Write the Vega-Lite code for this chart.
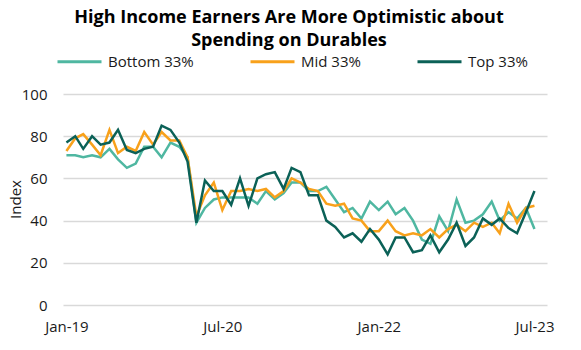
{
  "$schema": "https://vega.github.io/schema/vega-lite/v6.json",
  "width": 484,
  "height": 211,
  "autosize": {"type": "none"},
  "padding": {"left": 63, "top": 94, "right": 34, "bottom": 45},
  "background": "white",
  "title": {
    "text": ["High Income Earners Are More Optimistic about", "Spending on Durables"],
    "font": "Open Sans",
    "fontSize": 18,
    "fontWeight": "bold",
    "color": "#000000",
    "anchor": "middle",
    "frame": "group",
    "dx": -16,
    "offset": -12,
    "lineHeight": 23
  },
  "data": {
    "values": [
      {"month": "2019-01-01", "Bottom 33%": 71, "Mid 33%": 73, "Top 33%": 77},
      {"month": "2019-02-01", "Bottom 33%": 71, "Mid 33%": 79, "Top 33%": 80},
      {"month": "2019-03-01", "Bottom 33%": 70, "Mid 33%": 81, "Top 33%": 74},
      {"month": "2019-04-01", "Bottom 33%": 71, "Mid 33%": 76, "Top 33%": 80},
      {"month": "2019-05-01", "Bottom 33%": 70, "Mid 33%": 71, "Top 33%": 76},
      {"month": "2019-06-01", "Bottom 33%": 74, "Mid 33%": 83, "Top 33%": 77},
      {"month": "2019-07-01", "Bottom 33%": 69, "Mid 33%": 72, "Top 33%": 83},
      {"month": "2019-08-01", "Bottom 33%": 65, "Mid 33%": 75, "Top 33%": 73.5},
      {"month": "2019-09-01", "Bottom 33%": 67, "Mid 33%": 73, "Top 33%": 72},
      {"month": "2019-10-01", "Bottom 33%": 75, "Mid 33%": 82, "Top 33%": 74},
      {"month": "2019-11-01", "Bottom 33%": 75, "Mid 33%": 76, "Top 33%": 75},
      {"month": "2019-12-01", "Bottom 33%": 70, "Mid 33%": 82, "Top 33%": 85},
      {"month": "2020-01-01", "Bottom 33%": 77, "Mid 33%": 78, "Top 33%": 83},
      {"month": "2020-02-01", "Bottom 33%": 75, "Mid 33%": 78, "Top 33%": 77},
      {"month": "2020-03-01", "Bottom 33%": 70, "Mid 33%": 70, "Top 33%": 68},
      {"month": "2020-04-01", "Bottom 33%": 39, "Mid 33%": 42, "Top 33%": 39},
      {"month": "2020-05-01", "Bottom 33%": 46, "Mid 33%": 52, "Top 33%": 59},
      {"month": "2020-06-01", "Bottom 33%": 50, "Mid 33%": 58, "Top 33%": 54},
      {"month": "2020-07-01", "Bottom 33%": 51, "Mid 33%": 45, "Top 33%": 54},
      {"month": "2020-08-01", "Bottom 33%": 51, "Mid 33%": 54, "Top 33%": 47.5},
      {"month": "2020-09-01", "Bottom 33%": 51, "Mid 33%": 54, "Top 33%": 60},
      {"month": "2020-10-01", "Bottom 33%": 51, "Mid 33%": 55, "Top 33%": 47},
      {"month": "2020-11-01", "Bottom 33%": 48, "Mid 33%": 54, "Top 33%": 60},
      {"month": "2020-12-01", "Bottom 33%": 54, "Mid 33%": 55, "Top 33%": 62},
      {"month": "2021-01-01", "Bottom 33%": 50, "Mid 33%": 51, "Top 33%": 63},
      {"month": "2021-02-01", "Bottom 33%": 53, "Mid 33%": 54, "Top 33%": 55},
      {"month": "2021-03-01", "Bottom 33%": 58, "Mid 33%": 60, "Top 33%": 65},
      {"month": "2021-04-01", "Bottom 33%": 58, "Mid 33%": 58, "Top 33%": 63},
      {"month": "2021-05-01", "Bottom 33%": 54, "Mid 33%": 55, "Top 33%": 52},
      {"month": "2021-06-01", "Bottom 33%": 54, "Mid 33%": 54, "Top 33%": 52},
      {"month": "2021-07-01", "Bottom 33%": 56, "Mid 33%": 48, "Top 33%": 40},
      {"month": "2021-08-01", "Bottom 33%": 50, "Mid 33%": 47, "Top 33%": 37},
      {"month": "2021-09-01", "Bottom 33%": 44, "Mid 33%": 48, "Top 33%": 32},
      {"month": "2021-10-01", "Bottom 33%": 46, "Mid 33%": 41, "Top 33%": 34},
      {"month": "2021-11-01", "Bottom 33%": 41, "Mid 33%": 40, "Top 33%": 30},
      {"month": "2021-12-01", "Bottom 33%": 49, "Mid 33%": 35, "Top 33%": 36},
      {"month": "2022-01-01", "Bottom 33%": 45, "Mid 33%": 35, "Top 33%": 31},
      {"month": "2022-02-01", "Bottom 33%": 49, "Mid 33%": 40, "Top 33%": 24},
      {"month": "2022-03-01", "Bottom 33%": 43, "Mid 33%": 35, "Top 33%": 32},
      {"month": "2022-04-01", "Bottom 33%": 46, "Mid 33%": 33, "Top 33%": 32},
      {"month": "2022-05-01", "Bottom 33%": 40, "Mid 33%": 34, "Top 33%": 25},
      {"month": "2022-06-01", "Bottom 33%": 31, "Mid 33%": 33, "Top 33%": 26},
      {"month": "2022-07-01", "Bottom 33%": 29, "Mid 33%": 36, "Top 33%": 33},
      {"month": "2022-08-01", "Bottom 33%": 42, "Mid 33%": 32, "Top 33%": 25},
      {"month": "2022-09-01", "Bottom 33%": 35, "Mid 33%": 36, "Top 33%": 31},
      {"month": "2022-10-01", "Bottom 33%": 50, "Mid 33%": 38, "Top 33%": 39},
      {"month": "2022-11-01", "Bottom 33%": 39, "Mid 33%": 35, "Top 33%": 28},
      {"month": "2022-12-01", "Bottom 33%": 40, "Mid 33%": 39, "Top 33%": 32},
      {"month": "2023-01-01", "Bottom 33%": 43, "Mid 33%": 37, "Top 33%": 41},
      {"month": "2023-02-01", "Bottom 33%": 49, "Mid 33%": 39, "Top 33%": 38},
      {"month": "2023-03-01", "Bottom 33%": 40, "Mid 33%": 34, "Top 33%": 41},
      {"month": "2023-04-01", "Bottom 33%": 44, "Mid 33%": 48, "Top 33%": 36.5},
      {"month": "2023-05-01", "Bottom 33%": 41, "Mid 33%": 39, "Top 33%": 34},
      {"month": "2023-06-01", "Bottom 33%": 46, "Mid 33%": 46, "Top 33%": 44},
      {"month": "2023-07-01", "Bottom 33%": 36, "Mid 33%": 47, "Top 33%": 54}
    ],
    "format": {"parse": {"month": "date:'%Y-%m-%d'"}}
  },
  "transform": [
    {"fold": ["Bottom 33%", "Mid 33%", "Top 33%"], "as": ["group", "value"]}
  ],
  "mark": {"type": "line", "strokeWidth": 2.5, "strokeJoin": "miter"},
  "encoding": {
    "x": {
      "field": "month",
      "type": "temporal",
      "scale": {
        "domain": [
          {"year": 2018, "month": 12, "date": 20},
          {"year": 2023, "month": 8, "date": 14}
        ]
      },
      "axis": {
        "title": null,
        "values": [
          {"year": 2019, "month": 1, "date": 1},
          {"year": 2020, "month": 7, "date": 1},
          {"year": 2022, "month": 1, "date": 1},
          {"year": 2023, "month": 7, "date": 1}
        ],
        "format": "%b-%y",
        "grid": false,
        "ticks": false,
        "domain": false,
        "labelFont": "Open Sans",
        "labelFontSize": 15,
        "labelColor": "#1a1a1a",
        "labelPadding": 14,
        "labelFlush": false
      }
    },
    "y": {
      "field": "value",
      "type": "quantitative",
      "scale": {"domain": [0, 100], "nice": false, "zero": true},
      "axis": {
        "title": "Index",
        "titleFont": "Open Sans",
        "titleFontSize": 15,
        "titleFontWeight": "normal",
        "titleColor": "#1a1a1a",
        "titleX": -48,
        "titleY": 105,
        "titleAngle": -90,
        "titleAlign": "center",
        "titleBaseline": "middle",
        "values": [0, 20, 40, 60, 80, 100],
        "grid": true,
        "gridColor": "#d9d9d9",
        "gridWidth": 1.5,
        "ticks": false,
        "domain": false,
        "labelFont": "Open Sans",
        "labelFontSize": 15,
        "labelColor": "#1a1a1a",
        "labelPadding": 16
      }
    },
    "color": {
      "field": "group",
      "type": "nominal",
      "scale": {
        "domain": ["Bottom 33%", "Mid 33%", "Top 33%"],
        "range": ["#4fb7a1", "#f8a11b", "#0b6157"]
      },
      "legend": {
        "title": null,
        "orient": "none",
        "direction": "horizontal",
        "legendX": -7,
        "legendY": -56,
        "symbolType": "stroke",
        "symbolSize": 1936,
        "symbolStrokeWidth": 3,
        "labelFont": "Open Sans",
        "labelFontSize": 15,
        "labelColor": "#1a1a1a",
        "labelOffset": 5,
        "columnPadding": 50
      }
    }
  },
  "config": {"view": {"stroke": null}}
}
